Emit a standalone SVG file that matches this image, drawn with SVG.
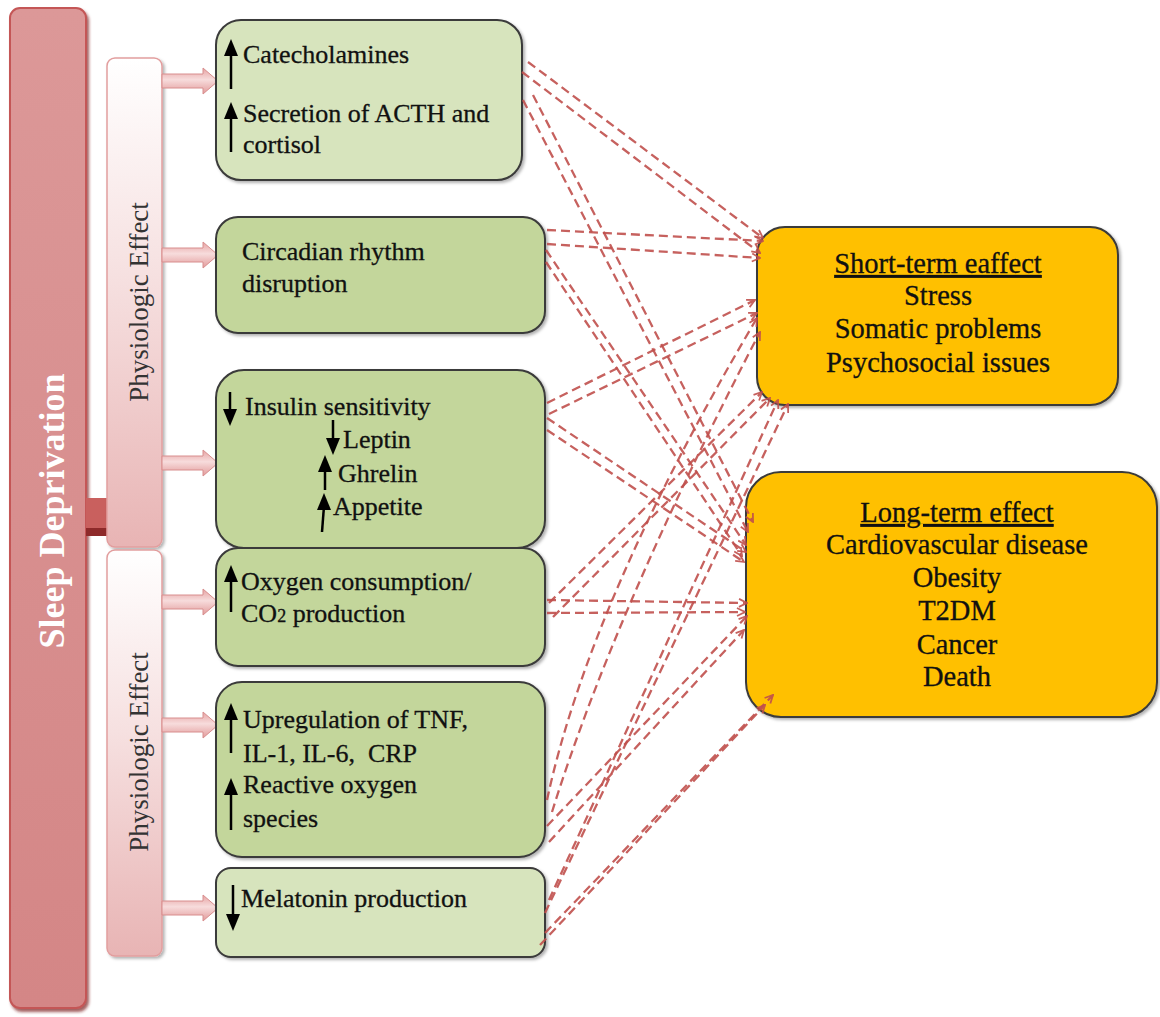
<svg xmlns="http://www.w3.org/2000/svg" width="1160" height="1017" viewBox="0 0 1160 1017">
<defs>
<linearGradient id="gSleep" x1="0" y1="0" x2="0" y2="1">
<stop offset="0" stop-color="#dc9898"/><stop offset="1" stop-color="#d48686"/>
</linearGradient>
<linearGradient id="gPhys" x1="0" y1="0" x2="0" y2="1">
<stop offset="0" stop-color="#ffffff"/><stop offset="0.45" stop-color="#f6e0e0"/><stop offset="1" stop-color="#e8b4b4"/>
</linearGradient>
<linearGradient id="gArrow" x1="0" y1="0" x2="0" y2="1">
<stop offset="0" stop-color="#e6a2a2"/><stop offset="0.45" stop-color="#f7dcdc"/><stop offset="1" stop-color="#e29a9a"/>
</linearGradient>
<filter id="sh" x="-10%" y="-10%" width="130%" height="130%">
<feDropShadow dx="2" dy="2" stdDeviation="1.5" flood-color="#000" flood-opacity="0.3"/>
</filter>
<filter id="shRed" x="-10%" y="-5%" width="130%" height="110%">
<feDropShadow dx="2" dy="3" stdDeviation="1.5" flood-color="#7a1f1f" flood-opacity="0.7"/>
</filter>
<marker id="ah" viewBox="0 0 10 10" refX="9" refY="5" markerWidth="10" markerHeight="10" markerUnits="userSpaceOnUse" orient="auto">
<path d="M1,1 L9,5 L1,9" fill="none" stroke="#c0504d" stroke-width="1.8"/>
</marker>
</defs>
<style>
.lbox{stroke:#3a3a3a;stroke-width:2;filter:url(#sh)}
.light{fill:#d7e4bd}
.mid{fill:#c3d69b}
.obox{fill:#ffc000;stroke:#3a3a3a;stroke-width:2;filter:url(#sh)}
.t{font-family:"Liberation Serif","Times New Roman",serif;font-size:26px;fill:#111;stroke:#111;stroke-width:0.3}
.tr{font-family:"Liberation Serif","Times New Roman",serif;font-size:28.5px;fill:#111;stroke:#111;stroke-width:0.3;text-anchor:middle}
.u{text-decoration:underline}
.ar{stroke:#000;stroke-width:2.5;fill:none}
.ah{fill:#000}
.blk{fill:url(#gArrow);stroke:#d88e8e;stroke-width:1}
.dl{fill:none;stroke:#c0504d;stroke-width:2.3;stroke-dasharray:9 5;opacity:0.9;marker-end:url(#ah)}
</style>
<rect width="1160" height="1017" fill="#fff"/>

<g id="sleep-deprivation">
<rect x="10" y="8" width="76" height="1000" rx="10" fill="url(#gSleep)" stroke="#c45656" stroke-width="2" filter="url(#shRed)"/>
<text transform="translate(64,511) rotate(-90)" text-anchor="middle" font-family="Liberation Serif,Times New Roman,serif" font-size="36" font-weight="bold" fill="#fff">Sleep Deprivation</text>
</g>

<g id="link-bar">
<rect x="86" y="498" width="22" height="38" fill="#c9605e"/>
<rect x="86" y="528" width="22" height="8" fill="#8e2a2a"/>
</g>

<g id="physiologic-upper">
<rect x="107" y="58" width="55" height="489" rx="8" fill="url(#gPhys)" stroke="#e29e9e" stroke-width="1.5" filter="url(#sh)"/>
<text transform="translate(148,302) rotate(-90)" text-anchor="middle" font-family="Liberation Serif,Times New Roman,serif" font-size="27" fill="#333">Physiologic Effect</text>
</g>
<g id="physiologic-lower">
<rect x="107" y="550" width="55" height="406" rx="8" fill="url(#gPhys)" stroke="#e29e9e" stroke-width="1.5" filter="url(#sh)"/>
<text transform="translate(148,752) rotate(-90)" text-anchor="middle" font-family="Liberation Serif,Times New Roman,serif" font-size="27" fill="#333">Physiologic Effect</text>
</g>

<g id="block-arrows">
<path class="blk" d="M162,74 H203 V68 L218,81 L203,94 V88 H162 Z"/>
<path class="blk" d="M162,248 H203 V242 L218,255 L203,268 V262 H162 Z"/>
<path class="blk" d="M162,456 H203 V450 L218,463 L203,476 V470 H162 Z"/>
<path class="blk" d="M162,595 H203 V589 L218,602 L203,615 V609 H162 Z"/>
<path class="blk" d="M162,718 H203 V712 L218,725 L203,738 V732 H162 Z"/>
<path class="blk" d="M162,901 H203 V895 L218,908 L203,921 V915 H162 Z"/>
</g>

<g id="box-catecholamines">
<rect class="lbox light" x="216" y="20" width="306" height="160" rx="25"/>
<path class="ar" d="M231,89 V52"/><path class="ah" d="M224,56 L231,39 L238,56 Z"/>
<path class="ar" d="M231,152 V115"/><path class="ah" d="M224,119 L231,102 L238,119 Z"/>
<text class="t" x="243" y="63">Catecholamines</text>
<text class="t" x="243" y="122">Secretion of ACTH and</text>
<text class="t" x="243" y="153">cortisol</text>
</g>

<g id="box-circadian">
<rect class="lbox mid" x="216" y="217" width="329" height="116" rx="22"/>
<text class="t" x="242" y="260">Circadian rhythm</text>
<text class="t" x="242" y="292">disruption</text>
</g>

<g id="box-insulin">
<rect class="lbox mid" x="216" y="370" width="329" height="178" rx="28"/>
<path class="ar" d="M230,392 V412"/><path class="ah" d="M223,409 L230,426 L237,409 Z"/>
<text class="t" x="245" y="415">Insulin sensitivity</text>
<path class="ar" d="M333,420 V441"/><path class="ah" d="M326,438 L333,455 L340,438 Z"/>
<text class="t" x="343" y="448">Leptin</text>
<path class="ar" d="M325,490 V468"/><path class="ah" d="M318,472 L325,455 L332,472 Z"/>
<text class="t" x="338" y="482">Ghrelin</text>
<path class="ar" d="M322,532 L324,506"/><path class="ah" d="M317,510 L324,493 L331,510 Z"/>
<text class="t" x="333" y="515">Appetite</text>
</g>

<g id="box-oxygen">
<rect class="lbox mid" x="216" y="548" width="329" height="118" rx="22"/>
<path class="ar" d="M231,612 V578"/><path class="ah" d="M224,582 L231,565 L238,582 Z"/>
<text class="t" x="241" y="590">Oxygen consumption/</text>
<text class="t" x="241" y="622">CO<tspan font-size="18">2</tspan> production</text>
</g>

<g id="box-tnf">
<rect class="lbox mid" x="216" y="682" width="329" height="175" rx="26"/>
<path class="ar" d="M231,753 V716"/><path class="ah" d="M224,720 L231,703 L238,720 Z"/>
<text class="t" x="243" y="728">Upregulation of TNF,</text>
<text class="t" x="243" y="762" xml:space="preserve">IL-1, IL-6,  CRP</text>
<path class="ar" d="M231,830 V791"/><path class="ah" d="M224,795 L231,778 L238,795 Z"/>
<text class="t" x="243" y="793">Reactive oxygen</text>
<text class="t" x="243" y="827">species</text>
</g>

<g id="box-melatonin">
<rect class="lbox light" x="216" y="868" width="329" height="89" rx="15"/>
<path class="ar" d="M233,885 V916"/><path class="ah" d="M226,914 L233,931 L240,914 Z"/>
<text class="t" x="241" y="907">Melatonin production</text>
</g>

<g id="box-short-term">
<rect class="obox" x="757" y="227" width="361" height="178" rx="28"/>
<text class="tr u" x="938" y="273">Short-term eaffect</text>
<text class="tr" x="938" y="305">Stress</text>
<text class="tr" x="938" y="338">Somatic problems</text>
<text class="tr" x="938" y="372">Psychosocial issues</text>
</g>

<g id="box-long-term">
<rect class="obox" x="746" y="472" width="411" height="245" rx="35"/>
<text class="tr u" x="957" y="522">Long-term effect</text>
<text class="tr" x="957" y="554">Cardiovascular disease</text>
<text class="tr" x="957" y="587">Obesity</text>
<text class="tr" x="957" y="620">T2DM</text>
<text class="tr" x="957" y="654">Cancer</text>
<text class="tr" x="957" y="686">Death</text>
</g>

<g id="connectors">
<path class="dl" d="M528,62 L763,238"/>
<path class="dl" d="M522,72 L760,253"/>
<path class="dl" d="M523,100 L748,532"/>
<path class="dl" d="M533,95 L753,522"/>
<path class="dl" d="M547,230 L763,241"/>
<path class="dl" d="M547,244 L760,258"/>
<path class="dl" d="M546,250 L746,545"/>
<path class="dl" d="M546,262 L742,556"/>
<path class="dl" d="M547,403 L755,300"/>
<path class="dl" d="M549,414 L757,313"/>
<path class="dl" d="M547,418 L746,552"/>
<path class="dl" d="M547,430 L744,562"/>
<path class="dl" d="M549,603 L762,392"/>
<path class="dl" d="M553,617 L770,398"/>
<path class="dl" d="M547,600 L747,603"/>
<path class="dl" d="M547,613 L745,612"/>
<path class="dl" d="M547,800 Q590,600 757,318"/>
<path class="dl" d="M552,812 Q615,610 760,332"/>
<path class="dl" d="M547,826 L747,616"/>
<path class="dl" d="M549,842 L744,630"/>
<path class="dl" d="M549,900 L778,400"/>
<path class="dl" d="M545,913 L788,404"/>
<path class="dl" d="M545,933 L773,695"/>
<path class="dl" d="M540,945 L765,705"/>
</g>
</svg>
